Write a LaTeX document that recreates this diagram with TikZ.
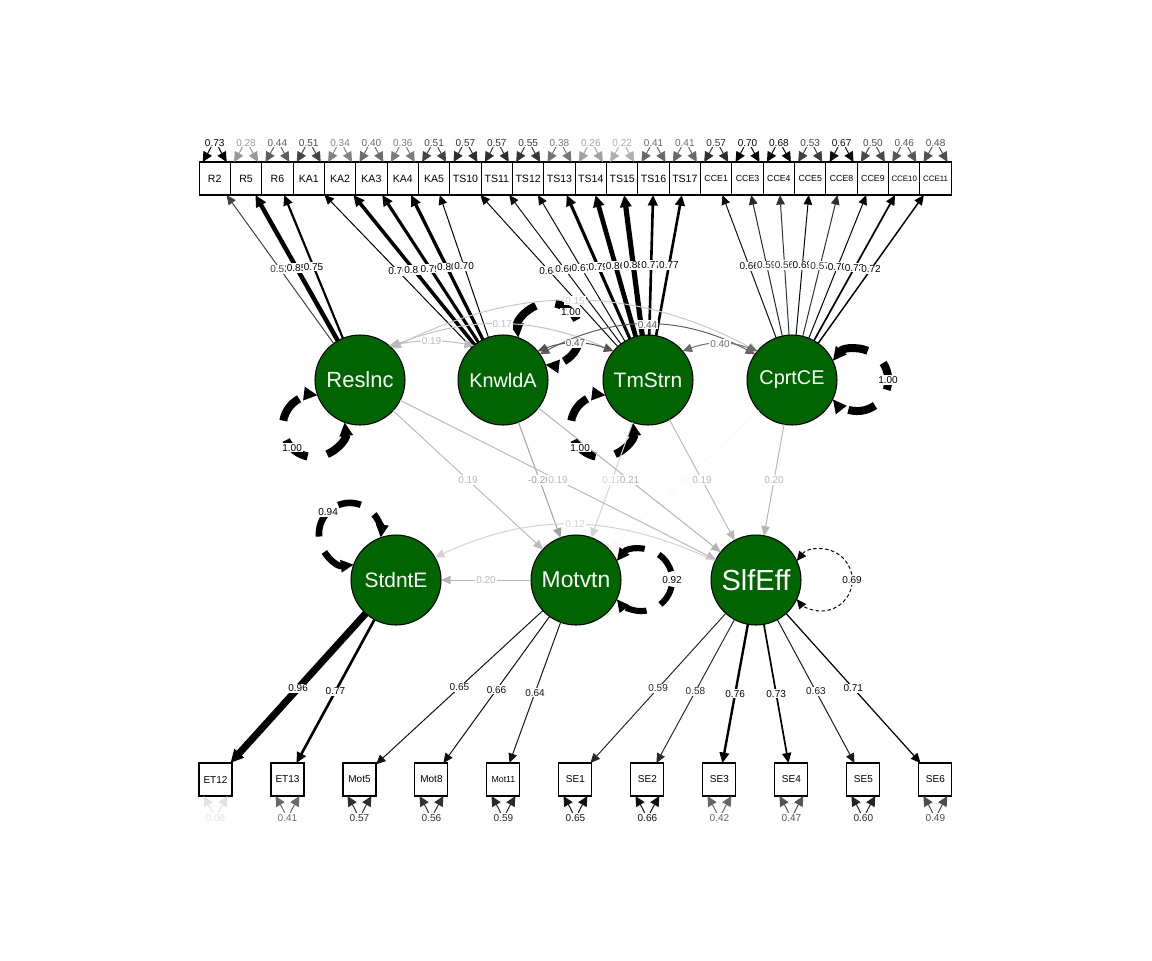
\documentclass[tikz,border=0pt]{standalone}
\usepackage{fontspec}
\setmainfont{Liberation Sans}
\usetikzlibrary{arrows.meta,positioning}
\definecolor{latgreen}{HTML}{006400}

\begin{document}
\begin{tikzpicture}[x=0.02cm, y=0.02cm,
  >={Triangle[length=0.18cm 0.6,width=0.16cm 0.6]},
  latent/.style={circle, draw, line width=0.6pt, fill=latgreen, text=white,
    minimum size=1.8cm, inner sep=0pt, outer sep=0pt},
  manifest/.style={rectangle, draw, line width=0.6pt, minimum width=0.627cm,
    minimum height=0.66cm, inner sep=0pt, outer sep=0pt, font=\fontsize{6}{7}\selectfont},
  botbox/.style={manifest, minimum width=0.66cm, font=\fontsize{5.7}{7}\selectfont},
  restip/.style={{Triangle[length=0.2cm,width=0.19cm]}-{Triangle[length=0.2cm,width=0.19cm]}},
  lab/.style={fill=white, inner sep=0.6pt, font=\fontsize{5.7}{6.5}\selectfont}]

\useasboundingbox (0,0) rectangle (1152,-960);

% Define parameters
\def\cut{0.7}

% shade and width of an edge from its value
\def\edgeset#1{%
  \pgfmathsetmacro{\shd}{min(100,abs(#1)/\cut*100)}%
  \pgfmathsetmacro{\lw}{0.567*(1+max(0,abs(#1)-\cut)/0.3*7)}}

% directed edge with its label
\def\load#1#2#3{\edgeset{#3}%
  \draw[->, black!\shd, line width=\lw pt] (#1) -- node[lab] {#3} (#2);}

% covariance between two latents
\def\cov#1#2#3#4{\edgeset{#4}%
  \draw[<->, black!\shd, line width=\lw pt] (#1) to[#3] node[lab] {#4} (#2);}

% residual above / below a box
\def\resup#1#2{\edgeset{#2}%
  \draw[restip, black!\shd, line width=0.567pt] ([xshift=-0.24cm]#1.north)
    to[out=60,in=120,looseness=3.2] node[lab] {#2} ([xshift=0.24cm]#1.north);}
\def\resdown#1#2{\edgeset{#2}%
  \draw[restip, black!\shd, line width=0.567pt] ([xshift=-0.24cm]#1.south)
    to[out=-60,in=-120,looseness=3.6] node[lab] {#2} ([xshift=0.24cm]#1.south);}

% variance loop on a latent: node, direction, value
\def\vloop#1#2#3{\edgeset{#3}%
  \pgfmathsetmacro{\dn}{3.5*\lw}\pgfmathsetmacro{\df}{2.5*\lw}%
  \pgfmathtruncatemacro{\da}{#2+25}%
  \pgfmathsetmacro{\sa}{#2+142}\pgfmathsetmacro{\ea}{#2-142}%
  \draw[<->, black!\shd, line width=\lw pt, dash pattern=on \dn pt off \df pt]
    (#1.\da) arc[start angle=\sa, end angle=\ea, radius=31];}
\def\vlab#1#2#3{\edgeset{#3}%
  \path (#1) ++(#2:96) node[lab, text=black!\shd] {#3};}

% ===== LATENTS =====
\node[latent, font=\fontsize{12.5}{14}\selectfont] (Reslnc) at (360,-380) {Reslnc};
\node[latent, font=\fontsize{11.3}{13}\selectfont] (KnwldA) at (503,-380) {KnwldA};
\node[latent, font=\fontsize{11.9}{13}\selectfont] (TmStrn) at (648,-380) {TmStrn};
\node[latent, font=\fontsize{11.3}{13}\selectfont] (CprtCE) at (792,-380) {CprtCE};
\node[latent, font=\fontsize{11.9}{13}\selectfont] (StdntE) at (396,-580) {StdntE};
\node[latent, font=\fontsize{13}{15}\selectfont] (Motvtn) at (576,-580) {Motvtn};
\node[latent, font=\fontsize{16.5}{18}\selectfont] (SlfEff) at (756,-580) {SlfEff};

% ===== TOP INDICATORS =====
\node[manifest] (R2) at (214.7,-178.5) {R2};
\node[manifest, right=0pt of R2] (R5) {R5};
\node[manifest, right=0pt of R5] (R6) {R6};
\node[manifest, right=0pt of R6] (KA1) {KA1};
\node[manifest, right=0pt of KA1] (KA2) {KA2};
\node[manifest, right=0pt of KA2] (KA3) {KA3};
\node[manifest, right=0pt of KA3] (KA4) {KA4};
\node[manifest, right=0pt of KA4] (KA5) {KA5};
\node[manifest, right=0pt of KA5] (TS10) {TS10};
\node[manifest, right=0pt of TS10] (TS11) {TS11};
\node[manifest, right=0pt of TS11] (TS12) {TS12};
\node[manifest, right=0pt of TS12] (TS13) {TS13};
\node[manifest, right=0pt of TS13] (TS14) {TS14};
\node[manifest, right=0pt of TS14] (TS15) {TS15};
\node[manifest, right=0pt of TS15] (TS16) {TS16};
\node[manifest, right=0pt of TS16] (TS17) {TS17};
\node[manifest, right=0pt of TS17, font=\fontsize{5}{6}\selectfont] (CCE1) {CCE1};
\node[manifest, right=0pt of CCE1, font=\fontsize{5}{6}\selectfont] (CCE3) {CCE3};
\node[manifest, right=0pt of CCE3, font=\fontsize{5}{6}\selectfont] (CCE4) {CCE4};
\node[manifest, right=0pt of CCE4, font=\fontsize{5}{6}\selectfont] (CCE5) {CCE5};
\node[manifest, right=0pt of CCE5, font=\fontsize{5}{6}\selectfont] (CCE8) {CCE8};
\node[manifest, right=0pt of CCE8, font=\fontsize{5}{6}\selectfont] (CCE9) {CCE9};
\node[manifest, right=0pt of CCE9, font=\fontsize{4.5}{5}\selectfont] (CCE10) {CCE10};
\node[manifest, right=0pt of CCE10, font=\fontsize{4.5}{5}\selectfont] (CCE11) {CCE11};

% ===== BOTTOM INDICATORS =====
\node[botbox] (ET12) at (215.5,-779.5) {ET12};
\node[botbox, right=0.78cm of ET12] (ET13) {ET13};
\node[botbox, right=0.78cm of ET13] (Mot5) {Mot5};
\node[botbox, right=0.78cm of Mot5] (Mot8) {Mot8};
\node[botbox, right=0.78cm of Mot8, font=\fontsize{5}{6}\selectfont] (Mot11) {Mot11};
\node[botbox, right=0.78cm of Mot11] (SE1) {SE1};
\node[botbox, right=0.78cm of SE1] (SE2) {SE2};
\node[botbox, right=0.78cm of SE2] (SE3) {SE3};
\node[botbox, right=0.78cm of SE3] (SE4) {SE4};
\node[botbox, right=0.78cm of SE4] (SE5) {SE5};
\node[botbox, right=0.78cm of SE5] (SE6) {SE6};

% ===== RESIDUALS OF INDICATORS =====
\resup{R2}{0.73} \resup{R5}{0.28} \resup{R6}{0.44}
\resup{KA1}{0.51} \resup{KA2}{0.34} \resup{KA3}{0.40} \resup{KA4}{0.36} \resup{KA5}{0.51}
\resup{TS10}{0.57} \resup{TS11}{0.57} \resup{TS12}{0.55} \resup{TS13}{0.38}
\resup{TS14}{0.26} \resup{TS15}{0.22} \resup{TS16}{0.41} \resup{TS17}{0.41}
\resup{CCE1}{0.57} \resup{CCE3}{0.70} \resup{CCE4}{0.68} \resup{CCE5}{0.53}
\resup{CCE8}{0.67} \resup{CCE9}{0.50} \resup{CCE10}{0.46} \resup{CCE11}{0.48}

\resdown{ET12}{0.08} \resdown{ET13}{0.41}
\resdown{Mot5}{0.57} \resdown{Mot8}{0.56} \resdown{Mot11}{0.59}
\resdown{SE1}{0.65} \resdown{SE2}{0.66} \resdown{SE3}{0.42}
\resdown{SE4}{0.47} \resdown{SE5}{0.60} \resdown{SE6}{0.49}

% ===== LATENT VARIANCES (loops first, labels last) =====
\vloop{Reslnc}{225}{1.00}
\vloop{KnwldA}{45}{1.00}
\vloop{TmStrn}{225}{1.00}
\vloop{CprtCE}{0}{1.00}
\vloop{StdntE}{135}{0.94}
\vloop{Motvtn}{0}{0.92}
\vloop{SlfEff}{0}{0.69}

% ===== LOADINGS =====
\load{Reslnc}{R2}{0.52} \load{Reslnc}{R5}{0.85} \load{Reslnc}{R6}{0.75}
\load{KnwldA}{KA1}{0.70} \load{KnwldA}{KA2}{0.81} \load{KnwldA}{KA3}{0.79}
\load{KnwldA}{KA4}{0.80} \load{KnwldA}{KA5}{0.70}
\load{TmStrn}{TS10}{0.68} \load{TmStrn}{TS11}{0.66} \load{TmStrn}{TS12}{0.67}
\load{TmStrn}{TS13}{0.79} \load{TmStrn}{TS14}{0.86} \load{TmStrn}{TS15}{0.88}
\load{TmStrn}{TS16}{0.77} \load{TmStrn}{TS17}{0.77}
\load{CprtCE}{CCE1}{0.66} \load{CprtCE}{CCE3}{0.59} \load{CprtCE}{CCE4}{0.56}
\load{CprtCE}{CCE5}{0.69} \load{CprtCE}{CCE8}{0.57} \load{CprtCE}{CCE9}{0.70}
\load{CprtCE}{CCE10}{0.73} \load{CprtCE}{CCE11}{0.72}

\load{StdntE}{ET12}{0.96} \load{StdntE}{ET13}{0.77}
\load{Motvtn}{Mot5}{0.65} \load{Motvtn}{Mot8}{0.66} \load{Motvtn}{Mot11}{0.64}
\load{SlfEff}{SE1}{0.59} \load{SlfEff}{SE2}{0.58} \load{SlfEff}{SE3}{0.76}
\load{SlfEff}{SE4}{0.73} \load{SlfEff}{SE5}{0.63} \load{SlfEff}{SE6}{0.71}

% ===== COVARIANCES =====
\cov{Reslnc.45}{CprtCE.140}{bend left=27}{0.15}
\cov{Reslnc.48}{TmStrn.140}{bend left=22}{0.17}
\cov{Reslnc.50}{KnwldA.130}{bend left=10}{0.19}
\cov{KnwldA.35}{CprtCE.145}{bend left=28}{0.44}
\cov{KnwldA.40}{TmStrn.140}{bend left=20}{0.47}
\cov{TmStrn.40}{CprtCE.140}{bend left=20}{0.40}

% ===== REGRESSIONS =====
\load{Reslnc}{Motvtn}{0.19}
\load{KnwldA}{Motvtn}{-0.26}
\load{TmStrn}{Motvtn}{0.12}
\load{CprtCE}{Motvtn}{-0.02}
\load{Reslnc}{SlfEff}{0.19}
\load{KnwldA}{SlfEff}{0.21}
\load{TmStrn}{SlfEff}{0.19}
\load{CprtCE}{SlfEff}{0.20}
\load{Motvtn}{StdntE}{0.20}
\edgeset{0.12}
\draw[->, black!\shd, line width=\lw pt] (SlfEff.155) to[out=155,in=25] node[lab] {0.12} (StdntE.30);

% ===== VARIANCE LABELS =====
\vlab{Reslnc}{225}{1.00}
\vlab{KnwldA}{45}{1.00}
\vlab{TmStrn}{225}{1.00}
\vlab{CprtCE}{0}{1.00}
\vlab{StdntE}{135}{0.94}
\vlab{Motvtn}{0}{0.92}
\vlab{SlfEff}{0}{0.69}

\end{tikzpicture}
\end{document}
